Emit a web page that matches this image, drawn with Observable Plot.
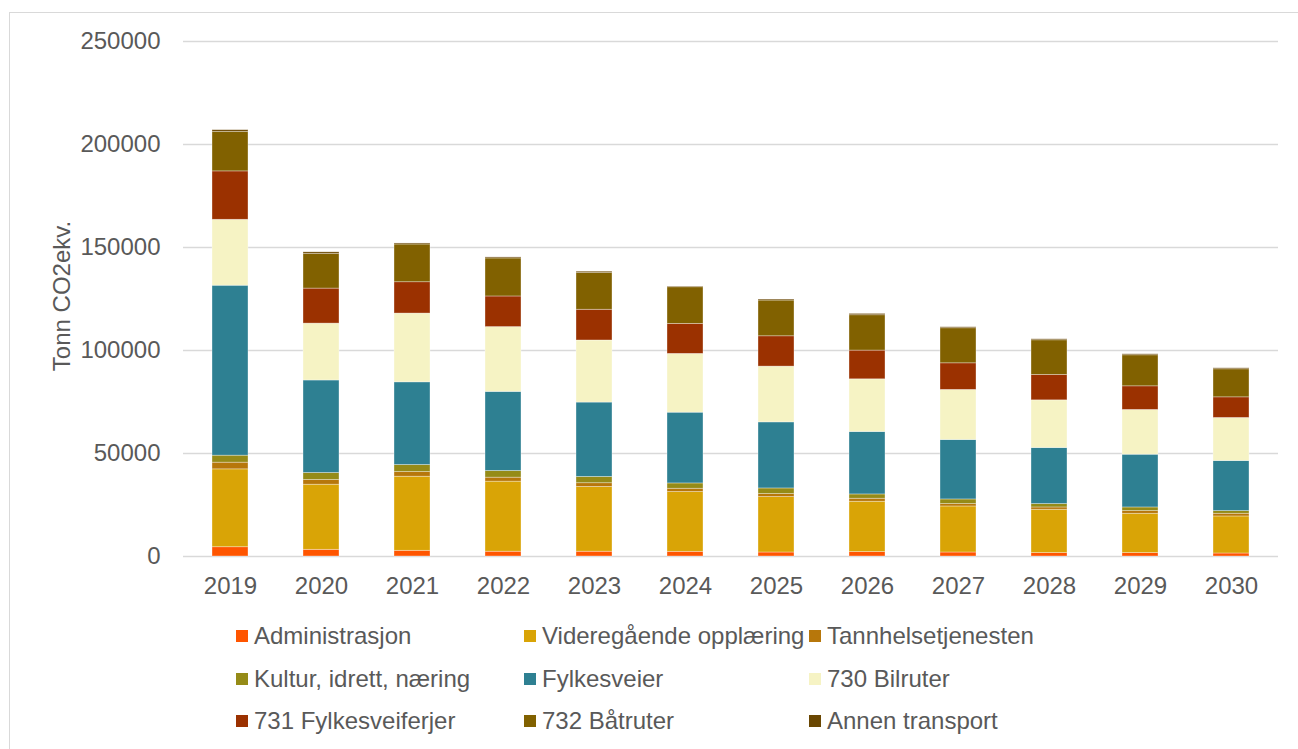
<!DOCTYPE html>
<html lang="no">
<head>
<meta charset="utf-8">
<title>Utslipp per sektor</title>
<script src="https://cdn.jsdelivr.net/npm/d3@7"></script>
<script src="https://cdn.jsdelivr.net/npm/@observablehq/plot@0.6"></script>
<style>
  html, body { margin: 0; padding: 0; background: #fff; }
  #chart {
    position: relative; width: 1298px; height: 749px; overflow: hidden;
    font-family: "Liberation Sans", Arial, sans-serif; color: #595959;
  }
  #frame {
    position: absolute; left: 9px; top: 12px; width: 1320px; height: 800px;
    border: 1px solid #d9d9d9; box-sizing: border-box;
  }
  #plot { position: absolute; left: 0; top: 0; }
  .item {
    position: absolute; display: flex; align-items: center; height: 30px;
    font-size: 24px; white-space: nowrap; color: #595959;
  }
  .item i { display: inline-block; width: 12px; height: 12px; margin-right: 6px; }
</style>
</head>
<body>
<div id="chart">
  <div id="frame"></div>
  <div id="plot"></div>
</div>
<script>
// Years on the x axis
const years = ["2019", "2020", "2021", "2022", "2023", "2024", "2025", "2026", "2027", "2028", "2029", "2030"];

// Emissions per sector, tonnes CO2-equivalents
const administrasjon = [4500, 3250, 2770, 2330, 2330, 2280, 1940, 2140, 1940, 1650, 1650, 1460];
const videregaende   = [37800, 31600, 35960, 34000, 31440, 29010, 26920, 24440, 22350, 21040, 19100, 17980];
const tannhelse      = [3250, 2300, 2280, 1940, 1800, 1600, 1460, 1460, 1170, 1120, 1310, 1310];
const kultur         = [3400, 3400, 3400, 3250, 3060, 2580, 2720, 2090, 2240, 1650, 1750, 1310];
const fylkesveier    = [82500, 44900, 40140, 38400, 36100, 34350, 32070, 30320, 28860, 27210, 25610, 24300];
const bilruter       = [32000, 27600, 33380, 31440, 30130, 28520, 27070, 25560, 24300, 23130, 21720, 20890];
const ferjer         = [23500, 17000, 15210, 14870, 14920, 14580, 14720, 13950, 12920, 12340, 11470, 10010];
const batruter       = [19200, 16800, 18320, 18460, 17830, 17780, 17350, 17150, 17010, 16810, 15060, 13610];
const annen          = [800, 800, 500, 500, 630, 340, 490, 650, 490, 490, 490, 490];

// Sector names, in stacking order (bottom to top)
const sectors = [
  "Administrasjon", "Videregående opplæring", "Tannhelsetjenesten",
  "Kultur, idrett, næring", "Fylkesveier", "730 Bilruter",
  "731 Fylkesveiferjer", "732 Båtruter", "Annen transport"
];
const sectorValues = [administrasjon, videregaende, tannhelse, kultur, fylkesveier, bilruter, ferjer, batruter, annen];

// Y axis ticks
const yTicks = [0, 50000, 100000, 150000, 200000, 250000];

const colors = ["#ff5500", "#d9a406", "#b7770b", "#958b17", "#2e8092", "#f6f3c4", "#9b3100", "#816100", "#6a4702"];

// Long-format table for the stacked bars
const table = years.flatMap((year, i) =>
  sectors.map((sector, s) => ({year, sector, value: sectorValues[s][i]}))
);

const chart = Plot.plot({
  width: 1298,
  height: 610,
  marginLeft: 183,
  marginRight: 20,
  marginTop: 41,
  marginBottom: 54,
  style: {fontFamily: "'Liberation Sans', Arial, sans-serif", fontSize: "24px", color: "#595959", background: "transparent"},
  x: {domain: years, paddingInner: 0.6, paddingOuter: 0.3, label: null},
  y: {domain: [0, 250000], label: null},
  color: {domain: sectors, range: colors},
  marks: [
    Plot.gridY(yTicks, {stroke: "#d9d9d9", strokeOpacity: 1, strokeWidth: 1.5}),
    Plot.axisY(yTicks, {tickSize: 0, tickPadding: 23, tickFormat: d3.format("d"), label: null, fontSize: 24}),
    Plot.axisX({tickSize: 0, tickPadding: 20, label: null, fontSize: 24}),
    Plot.barY(table, {
      x: "year", y: "value", z: "sector", fill: "sector",
      stroke: "white", strokeOpacity: 0.45, strokeWidth: 0.75
    })
  ]
});

// Rotated y-axis title
d3.select(chart).append("text")
  .attr("transform", "translate(70,296) rotate(-90)")
  .attr("text-anchor", "middle")
  .attr("fill", "#595959")
  .attr("font-size", 24)
  .text("Tonn CO2ekv.");

document.getElementById("plot").appendChild(chart);

// Legend: three columns, three rows
const legendCols = [236, 524, 809];
const legendRows = [636, 679, 721];
const chartDiv = document.getElementById("chart");
sectors.forEach((name, k) => {
  const item = document.createElement("div");
  item.className = "item";
  item.style.left = legendCols[k % 3] + "px";
  item.style.top = (legendRows[Math.floor(k / 3)] - 15) + "px";
  const sw = document.createElement("i");
  sw.style.background = colors[k];
  item.appendChild(sw);
  item.appendChild(document.createTextNode(name));
  chartDiv.appendChild(item);
});
</script>
</body>
</html>
